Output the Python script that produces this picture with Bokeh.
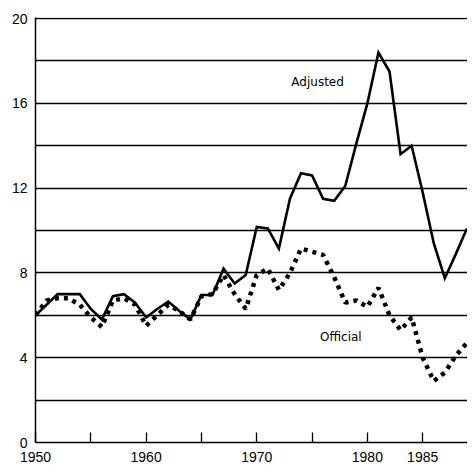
from bokeh.plotting import figure
from bokeh.models import FixedTicker, Range1d, ColumnDataSource
from bokeh.core.properties import value
from bokeh.embed import file_html
from bokeh.resources import INLINE

years = list(range(1950, 1990))
adjusted = [6.0, 6.5, 7.0, 7.0, 7.0, 6.3, 5.8, 6.9, 7.0, 6.6, 5.9, 6.3, 6.65, 6.2, 5.8,
            6.96, 6.96, 8.2, 7.5, 7.9, 10.17, 10.1, 9.15, 11.5, 12.7, 12.6, 11.5, 11.4,
            12.1, 14.1, 16.0, 18.4, 17.5, 13.6, 14.0, 11.8, 9.4, 7.75, 8.9, 10.1]
official = [6.0, 6.7, 6.8, 6.8, 6.5, 5.9, 5.45, 6.7, 6.8, 6.5, 5.5, 6.0, 6.5, 6.2, 5.8,
            6.9, 7.0, 7.9, 7.0, 6.3, 7.9, 8.2, 7.2, 8.0, 9.15, 9.0, 8.85, 7.8,
            6.6, 6.7, 6.4, 7.3, 6.0, 5.3, 5.9, 4.0, 2.9, 3.3, 4.1, 4.7]

x_ticks = [1950, 1955, 1960, 1965, 1970, 1975, 1980, 1985]
x_tick_labels = {1950: "1950", 1955: "", 1960: "1960", 1965: "", 1970: "1970",
                 1975: "", 1980: "1980", 1985: "1985"}
y_ticks = [0, 4, 8, 12, 16, 20]
grid_ticks = [2, 4, 6, 8, 10, 12, 14, 16, 18, 20]

label_text = ["Adjusted", "Official"]
label_x = [1975.5, 1977.6]
label_y = [17.0, 5.0]

p = figure(width=467, height=464, output_backend="svg", toolbar_location=None,
           x_range=Range1d(1950, 1989.05), y_range=Range1d(0, 20.05),
           min_border_left=35, min_border_right=0, min_border_top=17, min_border_bottom=19)
p.outline_line_color = None
p.background_fill_color = "white"
p.border_fill_color = "white"

p.line(years, adjusted, line_color="black", line_width=2.6, line_join="miter")
p.line(years, official, line_color="black", line_width=4.5, line_dash="4 5", line_cap="butt")

src = ColumnDataSource(dict(x=label_x, y=label_y, t=label_text))
p.text(x="x", y="y", text="t", source=src, text_align="center", text_baseline="middle",
       text_font=value("DejaVu Sans"), text_font_size="12px", text_color="black")

# axes
p.xaxis.ticker = FixedTicker(ticks=x_ticks)
p.xaxis.major_label_overrides = x_tick_labels
p.xaxis.major_tick_in = 10
p.xaxis.major_tick_out = 0
p.xaxis.minor_tick_in = 0
p.xaxis.minor_tick_out = 0
p.xaxis.major_label_standoff = 9
p.xaxis.major_label_text_font = "Liberation Sans"
p.xaxis.major_label_text_font_size = "14px"
p.xaxis.major_label_text_color = "black"
p.xaxis.axis_line_color = "black"
p.xaxis.axis_line_width = 1.5
p.xaxis.major_tick_line_color = "black"
p.xaxis.major_tick_line_width = 1.3

p.yaxis.ticker = FixedTicker(ticks=y_ticks)
p.yaxis.major_tick_in = 0
p.yaxis.major_tick_out = 0
p.yaxis.minor_tick_in = 0
p.yaxis.minor_tick_out = 0
p.yaxis.major_label_standoff = 8
p.yaxis.major_label_text_font = "Liberation Sans"
p.yaxis.major_label_text_font_size = "14px"
p.yaxis.major_label_text_color = "black"
p.yaxis.axis_line_color = "black"
p.yaxis.axis_line_width = 1.5

p.xgrid.visible = False
p.ygrid.ticker = FixedTicker(ticks=grid_ticks)
p.ygrid.grid_line_color = "black"
p.ygrid.grid_line_width = 1.3

open("out.html", "w").write(file_html(p, INLINE))
